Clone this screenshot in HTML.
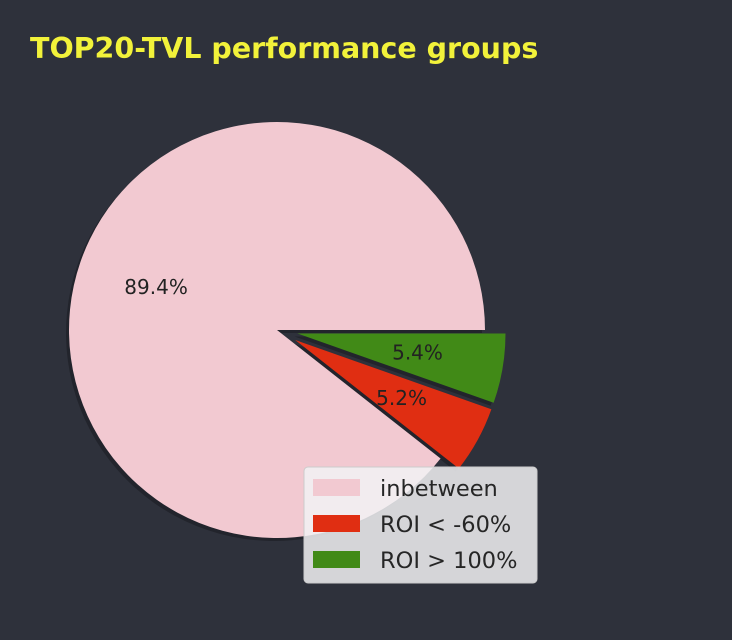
<!DOCTYPE html>
<html><head><meta charset="utf-8"><style>
body{margin:0;background:#2e313b;}
svg{display:block;font-family:"DejaVu Sans","Liberation Sans",sans-serif;}
</style></head><body>
<svg id="chart" width="732" height="640">
<rect width="732" height="640" fill="#2e313b"/>
<text x="30" y="58" fill="#f2f23a" font-size="28.5" font-weight="bold">TOP20-TVL performance groups</text>
<g id="shadows"></g>
<g id="slices"></g>
<g id="labels"></g>
<g>
<rect x="304" y="467" width="233" height="116" rx="4" fill="#f2f2f4" fill-opacity="0.85" stroke="#cccccc"/>
<g id="legend-entries"></g>
</g>
</svg>
<script>
const categories = ["inbetween", "ROI < -60%", "ROI > 100%"];
const values = [89.4, 5.2, 5.4];
const explode = [0, 0.1, 0.1];
const colors = ["#f2c9d1", "#e02e12", "#418a17"];
const cx = 277, cy = 330, r = 208;
const NS = "http://www.w3.org/2000/svg";
const total = values.reduce((a,b)=>a+b,0);
function pt(a, rad, ox, oy){ return [ox + rad*Math.cos(a), oy - rad*Math.sin(a)]; }
function arcPath(a0, a1, ox, oy){
  const p0 = pt(a0, r, ox, oy), p1 = pt(a1, r, ox, oy);
  const large = (a1 - a0) > Math.PI ? 1 : 0;
  return `M${ox},${oy} L${p0[0]},${p0[1]} A${r},${r} 0 ${large} 0 ${p1[0]},${p1[1]} Z`;
}
let start = 0;
values.forEach((v, i) => {
  const a0 = start, a1 = start + v/total*2*Math.PI;
  start = a1;
  const mid = (a0 + a1)/2;
  const ox = cx + explode[i]*r*Math.cos(mid), oy = cy - explode[i]*r*Math.sin(mid);
  const sh = document.createElementNS(NS, "path");
  sh.setAttribute("d", arcPath(a0, a1, ox - 3, oy + 3));
  sh.setAttribute("fill", "#000");
  sh.setAttribute("fill-opacity", "0.25");
  
  
  document.getElementById("shadows").appendChild(sh);
  const p = document.createElementNS(NS, "path");
  p.setAttribute("d", arcPath(a0, a1, ox, oy));
  p.setAttribute("fill", colors[i]);
  
  
  document.getElementById("slices").appendChild(p);
  const lp = pt(mid, 0.6*r, ox, oy);
  const t = document.createElementNS(NS, "text");
  t.setAttribute("x", lp[0] - 3); t.setAttribute("y", lp[1] + 5);
  t.setAttribute("text-anchor", "middle");
  t.setAttribute("font-size", "20");
  t.setAttribute("fill", "#222");
  t.textContent = v.toFixed(1) + "%";
  
  
  document.getElementById("labels").appendChild(t);
});
categories.forEach((c, i) => {
  const y = 479 + i*36;
  const rc = document.createElementNS(NS, "rect");
  rc.setAttribute("x", 313); rc.setAttribute("y", y);
  rc.setAttribute("width", 47); rc.setAttribute("height", 17);
  rc.setAttribute("fill", colors[i]);
  
  
  document.getElementById("legend-entries").appendChild(rc);
  const t = document.createElementNS(NS, "text");
  t.setAttribute("x", 380); t.setAttribute("y", y + 17);
  t.setAttribute("font-size", "22.5");
  t.setAttribute("fill", "#262626");
  t.textContent = c;
  
  
  document.getElementById("legend-entries").appendChild(t);
});
</script>
</body></html>
